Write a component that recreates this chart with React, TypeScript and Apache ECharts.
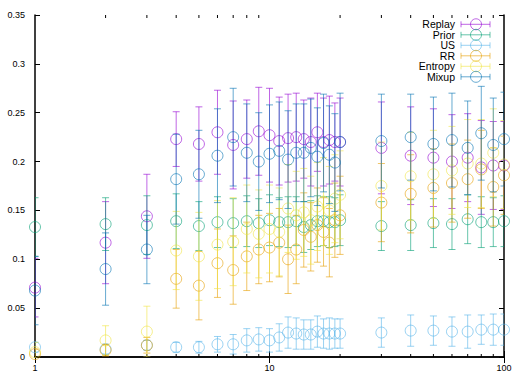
import React, { useEffect, useRef } from "react";
import * as echarts from "echarts";

const xs = [1, 2, 3, 4, 5, 6, 7, 8, 9, 10, 11, 12, 13, 14, 15, 16, 17, 18, 19, 20, 30, 40, 50, 60, 70, 80, 90, 100];

const seriesNames = ["Replay", "Prior", "US", "RR", "Entropy", "Mixup"];
const seriesColors = ["#9400d3", "#009e73", "#56b4e9", "#e69f00", "#f0e442", "#0072b2"];

const replayMean = [0.071, 0.117, 0.144, 0.223, 0.218, 0.230, 0.217, 0.223, 0.231, 0.227, 0.221, 0.224, 0.225, 0.223, 0.220, 0.230, 0.220, 0.222, 0.220, 0.220, 0.214, 0.206, 0.204, 0.200, 0.204, 0.194, 0.196, 0.196];
const replayErr = [0.030, 0.042, 0.043, 0.028, 0.038, 0.043, 0.045, 0.040, 0.045, 0.048, 0.045, 0.045, 0.045, 0.040, 0.045, 0.040, 0.045, 0.045, 0.040, 0.045, 0.047, 0.050, 0.050, 0.048, 0.045, 0.048, 0.045, 0.045];

const priorMean = [0.133, 0.136, 0.135, 0.139, 0.134, 0.138, 0.137, 0.139, 0.137, 0.140, 0.138, 0.138, 0.139, 0.133, 0.135, 0.139, 0.139, 0.138, 0.138, 0.140, 0.134, 0.135, 0.137, 0.136, 0.141, 0.138, 0.138, 0.139];
const priorErr = [0.030, 0.027, 0.030, 0.028, 0.025, 0.026, 0.025, 0.026, 0.025, 0.026, 0.025, 0.026, 0.025, 0.026, 0.025, 0.026, 0.025, 0.026, 0.025, 0.026, 0.025, 0.026, 0.025, 0.026, 0.025, 0.026, 0.025, 0.026];

const usMean = [0.010, 0.008, 0.012, 0.010, 0.010, 0.013, 0.013, 0.017, 0.018, 0.017, 0.020, 0.025, 0.024, 0.023, 0.023, 0.026, 0.024, 0.024, 0.024, 0.024, 0.025, 0.027, 0.027, 0.026, 0.026, 0.028, 0.028, 0.028];
const usErr = [0.005, 0.005, 0.005, 0.005, 0.006, 0.008, 0.010, 0.012, 0.012, 0.012, 0.014, 0.016, 0.016, 0.015, 0.015, 0.016, 0.015, 0.016, 0.015, 0.015, 0.015, 0.016, 0.015, 0.015, 0.017, 0.015, 0.016, 0.016];

const rrMean = [0.003, 0.007, 0.012, 0.080, 0.073, 0.096, 0.089, 0.103, 0.110, 0.112, 0.117, 0.100, 0.110, 0.130, 0.123, 0.135, 0.128, 0.117, 0.140, 0.145, 0.158, 0.167, 0.173, 0.178, 0.182, 0.192, 0.174, 0.186];
const rrErr = [0.005, 0.006, 0.008, 0.030, 0.035, 0.035, 0.035, 0.035, 0.035, 0.035, 0.035, 0.035, 0.035, 0.038, 0.035, 0.038, 0.035, 0.035, 0.038, 0.040, 0.040, 0.040, 0.040, 0.040, 0.040, 0.040, 0.040, 0.040];

const entropyMean = [0.005, 0.017, 0.026, 0.109, 0.103, 0.115, 0.118, 0.131, 0.126, 0.131, 0.128, 0.152, 0.145, 0.148, 0.140, 0.154, 0.159, 0.150, 0.162, 0.166, 0.175, 0.185, 0.187, 0.191, 0.198, 0.198, 0.209, 0.197];
const entropyErr = [0.010, 0.015, 0.026, 0.040, 0.045, 0.045, 0.045, 0.045, 0.045, 0.045, 0.045, 0.045, 0.045, 0.045, 0.045, 0.045, 0.045, 0.045, 0.045, 0.045, 0.045, 0.045, 0.045, 0.045, 0.045, 0.045, 0.045, 0.045];

const mixupMean = [0.068, 0.090, 0.110, 0.182, 0.187, 0.206, 0.225, 0.209, 0.200, 0.208, 0.211, 0.202, 0.209, 0.209, 0.214, 0.205, 0.219, 0.207, 0.199, 0.220, 0.221, 0.225, 0.218, 0.222, 0.214, 0.229, 0.217, 0.223];
const mixupErr = [0.035, 0.037, 0.035, 0.046, 0.045, 0.048, 0.050, 0.050, 0.050, 0.050, 0.050, 0.050, 0.050, 0.050, 0.050, 0.050, 0.050, 0.050, 0.050, 0.050, 0.048, 0.044, 0.048, 0.048, 0.048, 0.048, 0.048, 0.048];

const allMeans = [replayMean, priorMean, usMean, rrMean, entropyMean, mixupMean];
const allErrs = [replayErr, priorErr, usErr, rrErr, entropyErr, mixupErr];

const minorXTicks = [2, 3, 4, 5, 6, 7, 8, 9, 20, 30, 40, 50, 60, 70, 80, 90];

const Y_MIN = 0;
const Y_MAX = 0.35;
const Y_INTERVAL = 0.05;
const X_MIN = 1;
const X_MAX = 100;

const OPACITY = 0.6;
const FONT = '"Liberation Sans", Arial, sans-serif';

export default function App() {
  const ref = useRef<HTMLDivElement>(null);

  useEffect(() => {
    if (!ref.current) return;
    const chart = echarts.init(ref.current, undefined, { renderer: "svg" });

    const series: any[] = [];

    // minor ticks on log x axis (bottom and top)
    series.push({
      type: "custom",
      silent: true,
      clip: false,
      z: 1,
      data: minorXTicks.map((v) => [v, Y_MIN]),
      encode: { x: 0, y: 1 },
      renderItem: (_p: any, api: any) => {
        const x = api.value(0);
        const b = api.coord([x, Y_MIN]);
        const t = api.coord([x, Y_MAX]);
        const st = { stroke: "#000", lineWidth: 1 };
        return {
          type: "group",
          children: [
            { type: "line", shape: { x1: b[0], y1: b[1], x2: b[0], y2: b[1] - 3 }, style: st },
            { type: "line", shape: { x1: t[0], y1: t[1], x2: t[0], y2: t[1] + 3 }, style: st },
          ],
        };
      },
    });

    seriesNames.forEach((name, i) => {
      const color = seriesColors[i];
      const mean = allMeans[i];
      const err = allErrs[i];
      series.push({
        type: "custom",
        name,
        silent: true,
        clip: true,
        z: 2 + i * 2,
        data: xs.map((x, k) => [x, mean[k], err[k]]),
        encode: { x: 0, y: 1 },
        renderItem: (_p: any, api: any) => {
          const x = api.value(0);
          const y = api.value(1);
          const e = api.value(2);
          const top = api.coord([x, y + e]);
          const bot = api.coord([x, y - e]);
          const h = 3.5;
          const st = { stroke: color, lineWidth: 1, opacity: OPACITY };
          return {
            type: "group",
            children: [
              { type: "line", shape: { x1: top[0], y1: top[1], x2: bot[0], y2: bot[1] }, style: st },
              { type: "line", shape: { x1: top[0] - h, y1: top[1], x2: top[0] + h, y2: top[1] }, style: st },
              { type: "line", shape: { x1: bot[0] - h, y1: bot[1], x2: bot[0] + h, y2: bot[1] }, style: st },
            ],
          };
        },
      });
      series.push({
        type: "scatter",
        name,
        silent: true,
        z: 3 + i * 2,
        symbol: "circle",
        symbolSize: 11,
        data: xs.map((x, k) => [x, mean[k]]),
        itemStyle: {
          color: "rgba(0,0,0,0)",
          borderColor: color,
          borderWidth: 1,
          opacity: OPACITY,
        },
      });
    });

    const legendGraphics: any[] = [];
    seriesNames.forEach((name, i) => {
      const cy = 24.3 + i * 10.5;
      const color = seriesColors[i];
      const st = { stroke: color, lineWidth: 1, opacity: OPACITY };
      legendGraphics.push({
        type: "group",
        children: [
          {
            type: "text",
            style: {
              text: name,
              x: 455,
              y: cy,
              align: "right",
              verticalAlign: "middle",
              fontSize: 10.5,
              fontFamily: FONT,
              fill: "#000",
            },
          },
          { type: "line", shape: { x1: 461, y1: cy, x2: 490, y2: cy }, style: st },
          { type: "line", shape: { x1: 461, y1: cy - 3, x2: 461, y2: cy + 3 }, style: st },
          { type: "line", shape: { x1: 490, y1: cy - 3, x2: 490, y2: cy + 3 }, style: st },
          { type: "circle", shape: { cx: 476, cy, r: 5.5 }, style: { fill: "none", stroke: color, lineWidth: 1, opacity: OPACITY } },
        ],
      });
    });

    const axisLine = { show: true, lineStyle: { color: "#000", width: 1.5 } };

    chart.setOption({
      animation: false,
      backgroundColor: "#fff",
      grid: { left: 35, right: 19, top: 15, bottom: 24, containLabel: false },
      xAxis: [
        {
          type: "log",
          logBase: 10,
          min: X_MIN,
          max: X_MAX,
          position: "bottom",
          axisLine,
          axisTick: { show: true, inside: true, length: 6, lineStyle: { color: "#000" } },
          axisLabel: { color: "#000", fontSize: 9, fontFamily: FONT, margin: 6 },
          splitLine: { show: false },
        },
        {
          type: "log",
          logBase: 10,
          min: X_MIN,
          max: X_MAX,
          position: "top",
          axisLine,
          axisTick: { show: true, inside: true, length: 6, lineStyle: { color: "#000" } },
          axisLabel: { show: false },
          splitLine: { show: false },
        },
      ],
      yAxis: [
        {
          type: "value",
          min: Y_MIN,
          max: Y_MAX,
          interval: Y_INTERVAL,
          position: "left",
          axisLine,
          axisTick: { show: true, inside: true, length: 5, lineStyle: { color: "#000" } },
          axisLabel: { color: "#000", fontSize: 9, fontFamily: FONT, margin: 10 },
          splitLine: { show: false },
        },
        {
          type: "value",
          min: Y_MIN,
          max: Y_MAX,
          interval: Y_INTERVAL,
          position: "right",
          axisLine,
          axisTick: { show: true, inside: true, length: 5, lineStyle: { color: "#000" } },
          axisLabel: { show: false },
          splitLine: { show: false },
        },
      ],
      graphic: legendGraphics,
      series,
    });

    return () => {
      chart.dispose();
    };
  }, []);

  return (
    <div
      ref={ref}
      style={{ position: "absolute", left: 0, top: 0, width: 523, height: 381, background: "#fff" }}
    />
  );
}
